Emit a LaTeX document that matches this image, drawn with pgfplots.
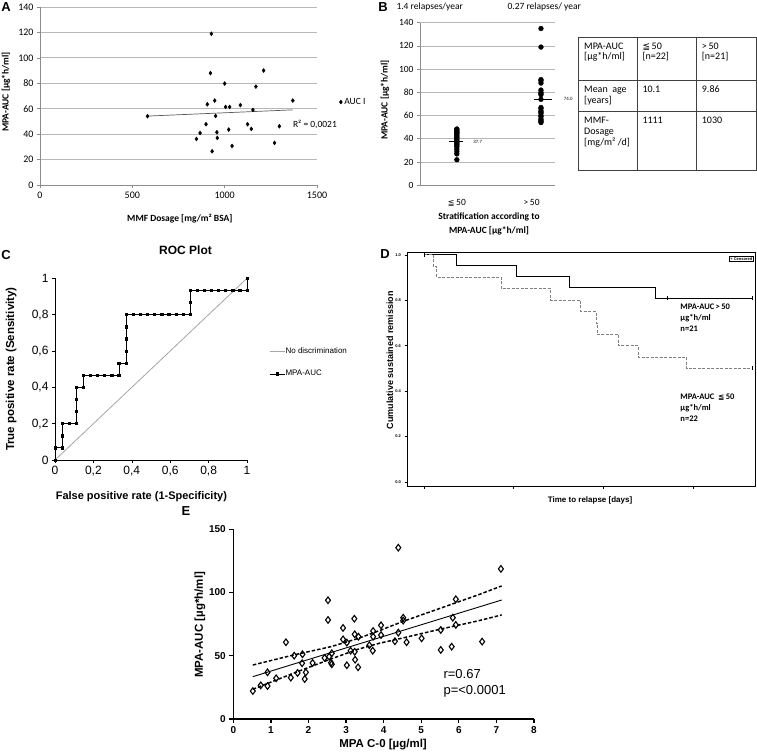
\documentclass[border=0pt]{standalone}
\usepackage{pgfplots}
\pgfplotsset{compat=1.18}
\usepackage{fontspec}
\setmainfont{Liberation Sans}
\newfontfamily\calibri{Carlito}
\newfontfamily\dejavu{DejaVu Sans}
\newcommand{\fs}[2]{\fontsize{#1}{#2}\selectfont}
\newcommand{\tl}[3]{\node[anchor=base west, inner sep=0pt, font=\calibri\fs{10}{12}] at (#1pt,753pt-#2pt) {#3};}
\begin{document}
\begin{tikzpicture}
\useasboundingbox (0pt,0pt) rectangle (757pt,753pt);
\fill[white] (0pt,0pt) rectangle (757pt,753pt);
\coordinate (pA) at (40pt,568pt);
\coordinate (pB) at (420pt,567.7pt);
\coordinate (pC) at (55pt,293pt);
\coordinate (pD) at (407pt,267pt);
\coordinate (pE) at (233.3pt,34pt);
\pgfplotsset{every axis/.append style={scale only axis, clip=false,
  /pgf/number format/assume math mode=true, /pgf/number format/1000 sep={}}}

% ================= A
\begin{axis}[at={(pA)}, anchor=south west, width=277pt, height=178pt,
  xmin=0, xmax=1500, ymin=0, ymax=140,
  xtick={0,500,1000,1500}, ytick={0,20,...,140},
  axis x line*=bottom, axis y line*=left,
  axis line style={-, black!45, line width=0.7pt},
  ymajorgrids, grid style={black!28, line width=0.8pt},
  tick style={black!45, line width=0.7pt}, major tick length=3pt, tick align=outside,
  ticklabel style={font=\calibri\fs{10}{11}},
  xlabel={MMF Dosage [mg/m² BSA]},
  xlabel style={at={(axis description cs:0.505,-0.19)}, anchor=center, font=\calibri\bfseries\fs{9.5}{10}},
  ylabel={MPA-AUC [µg*h/ml]},
  ylabel style={at={(axis description cs:-0.123,0.523)}, anchor=center, font=\calibri\bfseries\fs{9.5}{10}},
  legend style={at={(axis description cs:1.08,0.466)}, anchor=west, draw=none, fill=none, font=\calibri\fs{9.5}{10}, inner sep=0pt},
]
\addplot[only marks, mark=diamond*, mark size=2pt, black] coordinates {
(582,54.1) (928,118.9) (923,88.0) (1211,90.0) (1000,79.8) (1169,77.4) (1369,66.4)
(946,66.4) (906,63.5) (1005,61.4) (1027,61.4) (1085,62.8) (1153,59.1) (951,54.3)
(899,47.8) (1124,47.8) (1144,44.1) (1296,46.2) (867,40.9) (1022,43.6) (958,41.5)
(847,36.2) (960,37.0) (1040,30.7) (1270,33.1) (932,26.5)};
\addlegendentry{AUC I}
\addplot[black!65, line width=0.7pt, forget plot] coordinates {(582,54.2) (1369,59.1)};
\node[anchor=west, font=\calibri\fs{9.5}{10}] at (axis cs:1351,48) {R² = 0,0021};
\end{axis}

% ================= B
\begin{axis}[at={(pB)}, anchor=south west, width=135pt, height=162.6pt,
  xmin=0, xmax=1, ymin=0, ymax=140, ytick={0,20,...,140},
  xtick={0.273,0.827}, xticklabels={{\dejavu\fs{8}{9}≦}\,50, >\,50},
  axis x line*=bottom, axis y line*=left,
  axis line style={-, black!45, line width=0.7pt},
  ymajorgrids, grid style={black!28, line width=0.8pt},
  tick style={black!45, line width=0.7pt}, major tick length=3pt, tick align=outside,
  xtick style={draw=none},
  ticklabel style={font=\calibri\fs{9.5}{10}},
  xticklabel style={yshift=-8pt},
  xlabel={Stratification according to\\MPA-AUC [µg*h/ml]},
  xlabel style={at={(axis description cs:0.511,-0.238)}, anchor=center, align=center, font=\calibri\bfseries\fs{9.5}{14}},
  ylabel={MPA-AUC [µg*h/ml]},
  ylabel style={at={(axis description cs:-0.259,0.525)}, anchor=center, font=\calibri\bfseries\fs{9.5}{10}},
]
\addplot[only marks, mark=*, mark size=2.4pt, black] coordinates {
(0.273,22) (0.273,27) (0.273,29) (0.273,31) (0.273,33) (0.273,34) (0.273,35) (0.273,36)
(0.273,37) (0.273,38) (0.273,39) (0.273,40) (0.273,41) (0.273,42) (0.273,43) (0.273,44)
(0.273,45) (0.273,45.5) (0.273,46) (0.273,47) (0.273,48) (0.273,48.5)};
\addplot[only marks, mark=*, mark size=2.4pt, black] coordinates {
(0.896,135) (0.896,119) (0.896,91) (0.896,90) (0.896,88) (0.896,82) (0.896,80)
(0.896,79) (0.896,78) (0.896,74) (0.896,67) (0.896,66) (0.896,64) (0.896,63)
(0.896,62) (0.896,60) (0.896,59) (0.896,57) (0.896,56) (0.896,55) (0.896,54)};
\addplot[black, line width=0.6pt] coordinates {(0.215,37.7) (0.319,37.7)};
\addplot[black, line width=1.3pt] coordinates {(0.844,74.0) (0.978,74.0)};
\node[anchor=west, font=\fs{4.5}{5}] at (axis cs:0.37,37.7) {37.7};
\node[anchor=west, font=\fs{4.5}{5}] at (axis cs:1.04,74.0) {74.0};
\end{axis}
\node[anchor=west, font=\calibri\fs{9.5}{10}] at (393pt,745.7pt) {1.4 relapses/year};
\node[anchor=west, font=\calibri\fs{9.5}{10}] at (504pt,745.7pt) {0.27 relapses/ year};

% ================= table
\begin{scope}[black!75, line width=0.6pt]
\draw (578pt,716pt) rectangle (756.4pt,583pt);
\draw (578pt,673pt) -- (756.4pt,673pt);
\draw (578pt,641.3pt) -- (756.4pt,641.3pt);
\draw (637.7pt,716pt) -- (637.7pt,583pt);
\draw (696.7pt,716pt) -- (696.7pt,583pt);
\end{scope}
\tl{584}{49.2}{MPA-AUC}
\tl{584}{59.8}{[µg*h/ml]}
\tl{642.3}{49.2}{{\dejavu\fs{9}{10}≦}\,50}
\tl{642.3}{59.8}{[n=22]}
\tl{701.7}{49.2}{>\,50}
\tl{701.7}{59.8}{[n=21]}
\tl{584}{92.5}{Mean\ \ age}
\tl{584}{103.3}{[years]}
\tl{642.3}{92.5}{10.1}
\tl{701.7}{92.5}{9.86}
\tl{584}{123.5}{MMF-}
\tl{584}{134.3}{Dosage}
\tl{584}{145.1}{[mg/m² /d]}
\tl{642.3}{123.5}{1111}
\tl{701.7}{123.5}{1030}

% ================= C
\begin{axis}[at={(pC)}, anchor=south west, width=192pt, height=181.7pt,
  xmin=0, xmax=1, ymin=0, ymax=1,
  xtick={0,0.2,0.4,0.6,0.8,1}, ytick={0,0.2,0.4,0.6,0.8,1},
  /pgf/number format/use comma,
  axis x line*=bottom, axis y line*=left,
  axis line style={-, black, line width=0.6pt},
  tick style={black, line width=0.6pt}, major tick length=3pt, tick align=outside,
  ticklabel style={font=\fs{12}{13}},
  title={ROC Plot},
  title style={at={(axis description cs:0.68,1.123)}, anchor=center, font=\bfseries\fs{12}{13}},
  xlabel={False positive rate (1-Specificity)},
  xlabel style={at={(axis description cs:0.45,-0.2)}, anchor=center, font=\bfseries\fs{11}{13}},
  ylabel={True positive rate (Sensitivity)},
  ylabel style={at={(axis description cs:-0.229,0.5)}, anchor=center, font=\bfseries\fs{11.5}{13}},
  legend style={at={(axis description cs:1.115,0.62)}, anchor=north west, draw=none, fill=none,
    font=\fs{8}{9}, row sep=14pt, inner sep=0pt, nodes={inner sep=0.5pt}},
  legend cell align=left,
  legend image code/.code={\draw[mark repeat=2,mark phase=2,#1] plot coordinates {(0pt,0pt) (7.5pt,0pt) (15pt,0pt)};},
]
\addplot[black!35, line width=0.8pt] coordinates {(0,0) (1,1)};
\addlegendentry{No discrimination}
\addplot[black, line width=0.7pt, mark=square*, mark size=1.1pt] coordinates {
(0,0) (0,0.067) (0.037,0.067) (0.037,0.133) (0.037,0.2) (0.074,0.2) (0.111,0.2)
(0.111,0.267) (0.111,0.333) (0.111,0.4) (0.148,0.4) (0.148,0.467) (0.185,0.467)
(0.222,0.467) (0.259,0.467) (0.296,0.467) (0.333,0.467) (0.333,0.533) (0.370,0.533)
(0.370,0.6) (0.370,0.667) (0.370,0.733) (0.370,0.8) (0.407,0.8) (0.444,0.8)
(0.481,0.8) (0.519,0.8) (0.556,0.8) (0.593,0.8) (0.630,0.8) (0.667,0.8) (0.704,0.8)
(0.704,0.867) (0.704,0.933) (0.741,0.933) (0.778,0.933) (0.815,0.933) (0.852,0.933)
(0.889,0.933) (0.926,0.933) (0.963,0.933) (1,0.933) (1,1)};
\addlegendentry{MPA-AUC}
\end{axis}

% ================= D
\begin{axis}[at={(pD)}, anchor=south west, width=348pt, height=234pt,
  xmin=-19.3, xmax=369.5, ymin=-0.018, ymax=1.013,
  xtick={0,100,200,300}, xticklabel=\empty, ytick={0,0.2,0.4,0.6,0.8,1},
  yticklabel style={/pgf/number format/.cd, fixed, fixed zerofill, precision=1},
  tick pos=left, axis line style={black, line width=0.8pt},
  tick style={black, line width=0.6pt}, major tick length=2.5pt, tick align=outside,
  ticklabel style={font=\bfseries\fs{4}{5}},
  xlabel={Time to relapse [days]},
  xlabel style={at={(axis description cs:0.526,-0.06)}, anchor=center, font=\bfseries\fs{8}{9}},
  ylabel={Cumulative sustained remission},
  ylabel style={at={(axis description cs:-0.049,0.538)}, anchor=center, font=\bfseries\fs{9}{10}},
]
\addplot[const plot, black, line width=1pt] coordinates {
(0,1) (36,0.952) (102.5,0.905) (162,0.857) (258.5,0.810) (367,0.810)};
\addplot[const plot, black!50, line width=1pt, dash pattern=on 3pt off 1.5pt] coordinates {
(0,1) (10,0.95) (14,0.90) (86,0.85) (141.5,0.80) (175,0.75) (192,0.70) (193,0.65)
(217,0.60) (239,0.55) (293,0.50) (367,0.50)};
\addplot[only marks, mark=|, mark size=2pt, black, line width=0.6pt] coordinates {
(0,1) (271,0.81) (367,0.81) (367,0.5)};
\node[draw, line width=0.5pt, anchor=north east, font=\bfseries\fs{4}{5}, inner sep=0.8pt] at (rel axis cs:0.995,0.982) {+ Censored};
\node[anchor=west, align=left, font=\calibri\bfseries\fs{8.5}{11}] at (axis cs:282.3,0.724) {MPA-AUC\,>\,50\\µg*h/ml\\n=21};
\node[anchor=west, align=left, font=\calibri\bfseries\fs{8.5}{11}] at (axis cs:282.3,0.325) {MPA-AUC\ \ {\dejavu\fs{7.5}{8}≦}\,50\\µg*h/ml\\n=22};
\end{axis}

% ================= E
\begin{axis}[at={(pE)}, anchor=south west, width=300.7pt, height=189.7pt,
  xmin=0, xmax=8, ymin=0, ymax=150,
  xtick={0,1,2,3,4,5,6,7,8}, ytick={0,50,100,150},
  axis x line*=bottom, axis y line*=left,
  axis line style={-, black, line width=1.3pt},
  tick style={black, line width=1.3pt}, major tick length=4pt, tick align=outside,
  ticklabel style={font=\bfseries\fs{10}{12}},
  xlabel={MPA C-0 [µg/ml]},
  xlabel style={at={(axis description cs:0.498,-0.137)}, anchor=center, font=\bfseries\fs{11.5}{13}},
  ylabel={MPA-AUC [µg*h/ml]},
  ylabel style={at={(axis description cs:-0.111,0.496)}, anchor=center, font=\bfseries\fs{11.5}{13}},
]
\addplot[black, line width=0.9pt] coordinates {(0.52,33.5) (7.14,94.1)};
\addplot[black, line width=1.5pt, dash pattern=on 3.5pt off 2pt] coordinates {
(0.52,42.7) (1.6,50.6) (2.6,57.2) (3.3,63.5) (3.9,70.0) (4.5,77.0) (5.5,87.5) (6.5,98.0) (7.14,105.2)};
\addplot[black, line width=1.5pt, dash pattern=on 3.5pt off 2pt] coordinates {
(0.52,23.5) (1.6,36.2) (2.6,47.5) (3.3,55.0) (3.9,60.0) (4.5,64.0) (5.5,71.0) (6.5,77.5) (7.14,82.3)};
\addplot[only marks, mark=diamond, mark size=3.3pt, black, mark options={line width=1.1pt}] coordinates {
(0.52,22.1) (0.73,26.6) (0.91,26.1) (0.91,36.9) (1.14,32.2) (1.40,60.7) (1.53,32.7)
(1.62,50.1) (1.71,36.4) (1.84,51.2) (1.83,44.1) (1.93,36.9) (1.90,31.6) (2.11,44.3)
(2.52,93.9) (2.52,78.3) (2.43,48.3) (2.55,49.3) (2.60,44.5) (2.62,52.0) (2.62,43.3)
(2.92,72.0) (2.92,63.0) (3.02,60.4) (3.02,42.5) (3.12,54.0) (3.22,79.3) (3.23,67.0)
(3.24,46.9) (3.23,53.2) (3.33,65.1) (3.32,40.9) (3.62,58.3) (3.71,54.0) (3.72,69.6)
(3.72,65.1) (3.93,74.1) (3.93,66.4) (4.30,61.5) (4.39,68.3) (4.39,135.5) (4.52,80.1)
(4.52,77.8) (4.61,60.7) (5.01,63.8) (5.52,70.4) (5.52,54.6) (5.81,57.2) (5.84,80.1)
(5.92,94.7) (5.92,74.4) (6.62,61.2) (7.12,118.7)};
\node[anchor=west, align=left, font=\fs{13}{16.5}] at (axis cs:5.5,28.2) {r=0.67\\p=<0.0001};
\end{axis}

% ================= panel letters
\node[font=\bfseries\fs{13}{13}] at (6pt,745.5pt) {A};
\node[font=\bfseries\fs{13}{13}] at (383pt,745.5pt) {B};
\node[font=\bfseries\fs{13}{13}] at (6pt,498pt) {C};
\node[font=\bfseries\fs{13}{13}] at (385pt,499pt) {D};
\node[font=\bfseries\fs{13}{13}] at (186pt,242pt) {E};
\end{tikzpicture}
\end{document}
